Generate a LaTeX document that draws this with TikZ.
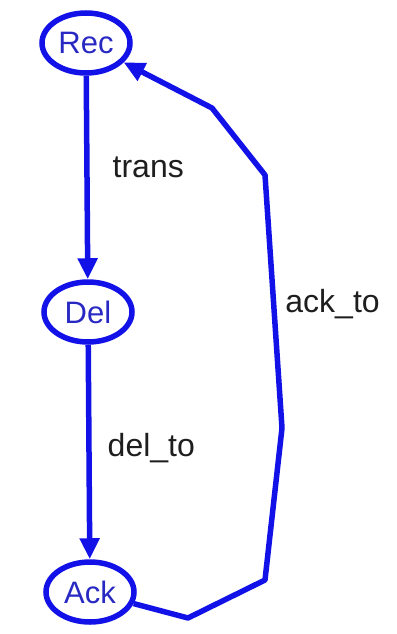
\documentclass[tikz,border=0pt]{standalone}
\usepackage{fontspec}
\setmainfont{Liberation Sans}
\usetikzlibrary{shapes.geometric,arrows.meta}
\definecolor{edgeblue}{RGB}{18,18,232}
\definecolor{stateblue}{RGB}{40,40,195}
\definecolor{labelgray}{RGB}{30,30,30}
\begin{document}
\begin{tikzpicture}[x=1pt,y=-1pt]

      \useasboundingbox (0,0) rectangle (396,634);

      \begin{scope}[every node/.style={ellipse,draw=edgeblue,line width=5.5pt,
          inner sep=0pt,minimum width=88pt,minimum height=60pt,
          text=stateblue,font=\fontsize{31}{32}\selectfont}]
        \node (rec) at (86,43)  {Rec};
        \node (del) at (88,312) {Del};
        \node (ack) at (90,592) {Ack};
      \end{scope}

      \coordinate (b1) at (188,618);
      \coordinate (b2) at (265,580);
      \coordinate (b3) at (282,428);
      \coordinate (b4) at (265,175);
      \coordinate (b5) at (212,108);

      \begin{scope}[every node/.style={inner sep=0pt,text=labelgray,
          font=\fontsize{32}{33}\selectfont}]

        \begin{scope}[every edge/.style={draw=edgeblue,line width=5.5pt,
            -{Triangle[length=21pt,width=19pt]}}]
          \path (rec) edge node[pos=0.45,right=23pt] {trans} (del);
          \path (del) edge node[pos=0.48,right=16pt] {del\_to} (ack);
        \end{scope}

        \draw[edgeblue,line width=5.5pt,line join=round,
          -{Triangle[length=21pt,width=19pt]}]
          (ack) -- (b1) -- (b2) -- (b3)
          -- (b4) node[pos=0.49,right=9pt,text=labelgray] {ack\_to}
          -- (b5) -- (rec);
      \end{scope}

    \end{tikzpicture}
\end{document}
